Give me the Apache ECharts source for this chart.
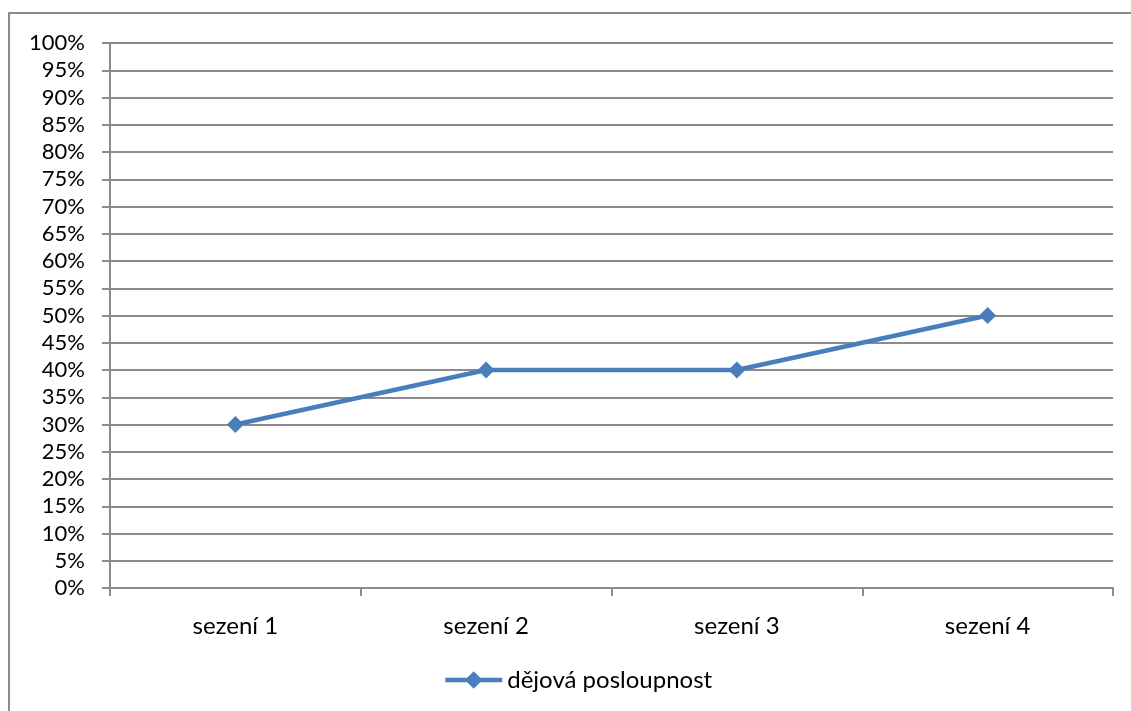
<!DOCTYPE html>
<html>
<head>
<meta charset="utf-8">
<script src="https://cdn.jsdelivr.net/npm/echarts@6/dist/echarts.min.js"></script>
<style>
html,body{margin:0;padding:0;background:#fff;}
#chart{width:1131px;height:711px;}
</style>
</head>
<body>
<div id="chart"></div>
<script>
// Session labels and share of story sequence per session (%)
const categories = ['sezení 1', 'sezení 2', 'sezení 3', 'sezení 4'];
const seriesName = 'dějová posloupnost';
const values = [30, 40, 40, 50];

const font = 'Lato, "Open Sans", sans-serif';
const lineColor = '#4a7ebb';
const gray = '#8c8c8c';
const chart = echarts.init(document.getElementById('chart'));
chart.setOption({
  animation: false,
  backgroundColor: '#fff',
  graphic: [{
    type: 'rect',
    shape: { x: 9, y: 13, width: 1140, height: 720 },
    style: { fill: 'none', stroke: gray, lineWidth: 2 },
    silent: true
  }],
  grid: { left: 110, right: 18, top: 43, bottom: 123 },
  legend: {
    top: 663,
    left: 438,
    itemWidth: 57,
    itemHeight: 22,
    itemGap: 4,
    lineStyle: { width: 4.5, color: lineColor },
    textStyle: { fontFamily: font, fontSize: 24, color: '#000' },
    data: [seriesName]
  },
  xAxis: {
    type: 'category',
    data: categories,
    boundaryGap: true,
    axisLine: { lineStyle: { color: gray, width: 2 } },
    axisTick: { show: true, length: 8, lineStyle: { color: gray, width: 2 } },
    axisLabel: { fontFamily: font, fontSize: 24, color: '#000', margin: 26 }
  },
  yAxis: {
    type: 'value',
    min: 0,
    max: 100,
    interval: 5,
    axisLine: { show: true, lineStyle: { color: gray, width: 2 } },
    axisTick: { show: true, length: 8, lineStyle: { color: gray, width: 2 } },
    splitLine: { lineStyle: { color: gray, width: 2 } },
    axisLabel: { fontFamily: font, fontSize: 22, color: '#000', margin: 25, formatter: '{value}%' }
  },
  series: [{
    name: seriesName,
    type: 'line',
    data: values,
    symbol: 'diamond',
    symbolSize: 17,
    lineStyle: { color: lineColor, width: 4.5 },
    itemStyle: { color: lineColor }
  }]
});
</script>
</body>
</html>
